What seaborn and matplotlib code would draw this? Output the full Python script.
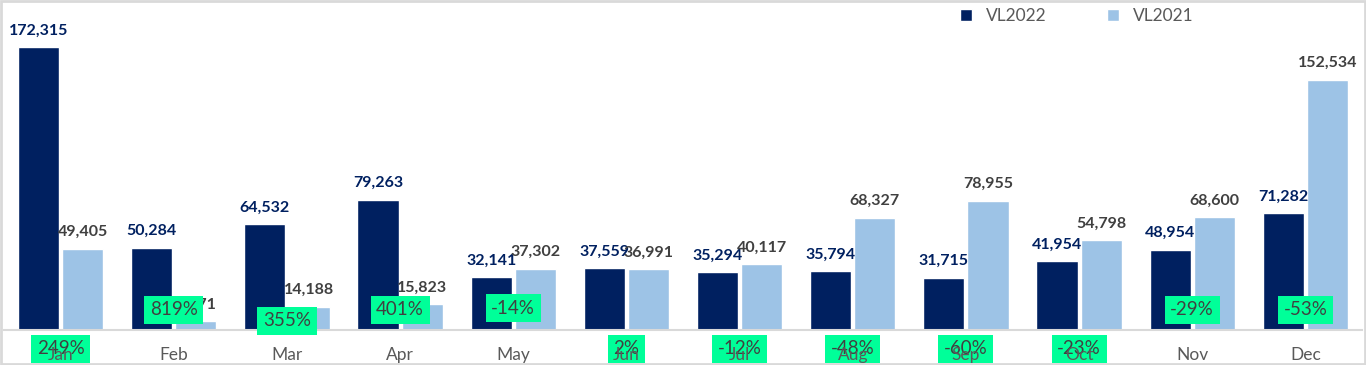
import numpy as np
import pandas as pd
import matplotlib
matplotlib.use("Agg")
import matplotlib.pyplot as plt
import seaborn as sns

# data
months = ["Jan", "Feb", "Mar", "Apr", "May", "Jun", "Jul", "Aug", "Sep", "Oct", "Nov", "Dec"]
vl2022 = [172315, 50284, 64532, 79263, 32141, 37559, 35294, 35794, 31715, 41954, 48954, 71282]
vl2021 = [49405, 5471, 14188, 15823, 37302, 36991, 40117, 68327, 78955, 54798, 68600, 152534]
pct_labels = ["249%", "819%", "355%", "401%", "-14%", "2%", "-12%", "-48%", "-60%", "-23%", "-29%", "-53%"]
# where the growth labels sit (data units, as placed in the original)
pct_label_y = [-11500, 12200, 5500, 12200, 13400, -11500, -11500, -11500, -11500, -11500, 12200, 12200]

NAVY = "#002060"
LIGHT = "#9DC3E6"
GREEN = "#00FF99"

df = pd.DataFrame({
    "month": months * 2,
    "value": vl2022 + vl2021,
    "series": ["VL2022"] * 12 + ["VL2021"] * 12,
})

sns.set_style("white")
plt.rcParams["font.family"] = ["Lato", "DejaVu Sans"]

fig = plt.figure(figsize=(13.66, 3.65), dpi=100)
ax = fig.add_axes([4 / 1366, 35 / 365, 1358 / 1366, 328 / 365])

sns.barplot(data=df, x="month", y="value", hue="series", order=months,
            hue_order=["VL2022", "VL2021"], palette=[NAVY, LIGHT], saturation=1,
            width=0.78, gap=0.07, ax=ax, legend=True)

ax.set_ylim(0, 200000)
ax.set_xlim(-0.5, 11.5)
ax.set_axisbelow(False)

# value labels (kept under the green growth boxes)
label_colors = [NAVY, "#404040"]
for cont, col in zip(ax.containers, label_colors):
    ax.bar_label(cont, labels=[f"{int(b.get_height()):,}" for b in cont],
                 padding=7, color=col, fontsize=11.5, fontweight="bold", zorder=1.5)

# growth labels with green boxes (month tick labels stay on top, like the original)
for i, (txt, y) in enumerate(zip(pct_labels, pct_label_y)):
    ax.text(i, y, txt, ha="center", va="center", fontsize=13.5, color="#404040",
            clip_on=False, zorder=2,
            bbox=dict(boxstyle="square,pad=0.3", facecolor=GREEN, edgecolor="none"))

ax.set_xlabel("")
ax.set_ylabel("")
ax.set_yticks([])
ax.tick_params(axis="x", length=0, labelsize=12.5, labelcolor="#595959", pad=12)
for s in ["top", "left", "right"]:
    ax.spines[s].set_visible(False)
ax.spines["bottom"].set_color("#D9D9D9")
ax.spines["bottom"].set_linewidth(1.5)
ax.spines["bottom"].set_zorder(1.8)

leg = ax.legend(loc="upper left", bbox_to_anchor=(940 / 1358, 1.03), ncol=2, frameon=False,
                fontsize=12.5, handlelength=0.7, handleheight=0.7, columnspacing=3.5,
                handletextpad=0.8, labelcolor="#595959")
leg.set_zorder(5)

# outer border of the picture
fig.patches.append(plt.Rectangle((0.001, 0.002), 0.998, 0.996, transform=fig.transFigure,
                                 fill=False, edgecolor="#D9D9D9", linewidth=2))

fig.savefig("out.png", dpi=100)
